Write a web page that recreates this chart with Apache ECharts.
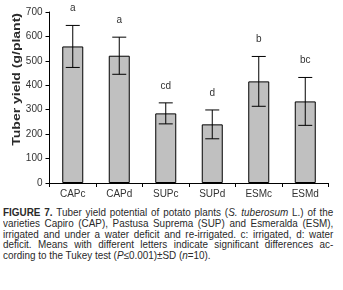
<!DOCTYPE html>
<html>
<head>
<meta charset="UTF-8">
<title></title>
<style>
	body { margin: 0; background: #fff; }
	#main { position: absolute; left: 0; top: 0; width: 343px; height: 200px; }
	.cap { position: absolute; left: 3px; top: 207px; width: 367px;
		transform: scaleX(0.9); transform-origin: 0 0;
		font-family: "Liberation Sans", Arial, sans-serif;
		font-size: 11px; line-height: 10.8px; color: #2a2a2a; }
	.cap div { text-align: justify; text-align-last: justify; white-space: nowrap; }
	.cap div.last { text-align-last: left; }
</style>
</head>
<body>
	<div id="main"></div>
	<!--图注-->
	<div class="cap">
		<div><b>FIGURE 7.</b> Tuber yield potential of potato plants (<i>S. tuberosum</i> L.) of the</div>
		<div>varieties Capiro (CAP), Pastusa Suprema (SUP) and Esmeralda (ESM),</div>
		<div>irrigated and under a water deficit and re-irrigated. c: irrigated, d: water</div>
		<div>deficit. Means with different letters indicate significant differences ac-</div>
		<div class="last">cording to the Tukey test (<i>P</i>≤0.001)±SD (<i>n</i>=10).</div>
	</div>
</body>
<script type="text/javascript" src="https://cdn.jsdelivr.net/npm/echarts@6/dist/echarts.min.js"></script>
<script type="text/javascript">
	var categories = ['CAPc', 'CAPd', 'SUPc', 'SUPd', 'ESMc', 'ESMd'];
	var means = [559, 521, 285, 240, 416, 334];
	var sd = [86, 76, 43, 59, 102, 98];
	var letters = ['a', 'a', 'cd', 'd', 'b', 'bc'];

	var font = '"Liberation Sans", Arial, sans-serif';

	var errData = [];
	for (var i = 0; i < categories.length; i++) {
		errData.push([i, means[i] - sd[i], means[i] + sd[i], letters[i]]);
	}

	var myChart = echarts.init(document.getElementById('main'));
	var option = {
		animation: false,
		grid: {
			left: 49.5,
			right: 14.5,
			top: 12,
			bottom: 17
		},
		xAxis: {
			type: 'category',
			data: categories,
			axisLine: { lineStyle: { color: '#000', width: 1 } },
			axisTick: { show: true, length: 4, lineStyle: { color: '#000' } },
			axisLabel: { color: '#333', fontFamily: font, fontSize: 10, margin: 6 }
		},
		yAxis: {
			type: 'value',
			min: 0,
			max: 700,
			interval: 100,
			splitLine: { show: false },
			axisLine: { show: true, lineStyle: { color: '#000', width: 1 } },
			axisTick: { show: true, length: 4, lineStyle: { color: '#000' } },
			axisLabel: { color: '#333', fontFamily: font, fontSize: 10, margin: 7 }
		},
		graphic: [{
			type: 'text',
			left: 12,
			top: 13,
			rotation: Math.PI / 2,
			scaleX: 1.4,
			style: {
				text: 'Tuber yield (g/plant)',
				fill: '#2a2a2a',
				font: 'bold 10px ' + font
			}
		}],
		series: [{
			name: 'yield',
			type: 'bar',
			data: means,
			barWidth: 21,
			itemStyle: { color: '#c0c0c0', borderColor: '#000', borderWidth: 1 }
		}, {
			name: 'sd',
			type: 'custom',
			data: errData,
			z: 10,
			renderItem: function (params, api) {
				var x = api.value(0);
				var lo = api.coord([x, api.value(1)]);
				var hi = api.coord([x, api.value(2)]);
				var hw = 7;
				var st = { stroke: '#000', lineWidth: 1 };
				return {
					type: 'group',
					children: [
						{ type: 'line', shape: { x1: hi[0], y1: hi[1], x2: lo[0], y2: lo[1] }, style: st },
						{ type: 'line', shape: { x1: hi[0] - hw, y1: hi[1], x2: hi[0] + hw, y2: hi[1] }, style: st },
						{ type: 'line', shape: { x1: lo[0] - hw, y1: lo[1], x2: lo[0] + hw, y2: lo[1] }, style: st },
						{ type: 'text', x: hi[0], y: hi[1] - 17, style: {
							text: api.value(3), fill: '#333', font: '10px ' + font,
							align: 'center', verticalAlign: 'middle' } }
					]
				};
			}
		}]
	};
	myChart.setOption(option);
</script>
</html>
